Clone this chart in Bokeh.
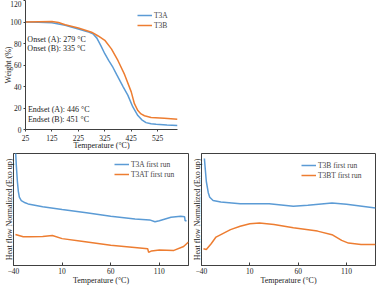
from bokeh.plotting import figure
from bokeh.layouts import column, row
from bokeh.models import Legend, LegendItem, Label, FixedTicker
from bokeh.embed import file_html
from bokeh.resources import INLINE

# ---- TGA data ----
tga_a_temp = [25, 75, 125, 175, 225, 260, 280, 295, 310, 325, 340, 356, 370, 381, 395, 412, 431, 450, 465, 481, 500, 519, 560, 600]
tga_a_wt = [100, 99.8, 99.2, 97, 93.5, 91, 89, 85, 78, 70.5, 64, 57.7, 51, 46, 39.5, 32, 21, 13, 9, 6.4, 5.3, 4.8, 4.2, 3.8]
tga_b_temp = [25, 75, 125, 150, 175, 225, 275, 300, 325, 350, 375, 400, 425, 437, 450, 462, 475, 500, 550, 600]
tga_b_wt = [100, 100.3, 100.5, 99.5, 97.5, 94.5, 90.5, 87, 83, 75, 64, 51, 35, 24, 17.6, 14.5, 12.8, 11.2, 10.5, 9.6]
tga_xticks = [25, 125, 225, 325, 425, 525]
tga_yticks = [0, 20, 40, 60, 80, 100, 120]
tga_notes = ["Onset (A): 279 °C", "Onset (B): 335 °C", "Endset (A): 446 °C", "Endset (B): 451 °C"]

# ---- DSC data (normalized, arbitrary units) ----
dsc_a_temp = [-38, -37, -36, -35, -34, -32, -28, -25, -10, 10, 35, 60, 85, 100, 105.5, 110, 122, 132, 136, 136.5, 138]
dsc_a_val = [104, 88, 75, 66, 61, 58, 56, 55, 52.5, 50, 47, 44, 41.5, 40.7, 39, 40, 43, 44, 43.5, 40, 40]
dsc_at_temp = [-38, -30, -23, -10, 0, 10, 30, 60, 90, 98, 99, 102, 110, 125, 135, 140]
dsc_at_val = [27.7, 25.6, 25.6, 26, 26.8, 24, 21.7, 18, 15.7, 15, 11.7, 13, 13.9, 13.5, 17, 21]
dsc_b_temp = [-37, -36, -35, -33, -31.5, -28, -20, 0, 30, 55, 70, 95, 110, 140]
dsc_b_val = [95.5, 85, 75, 65, 61, 58, 56.7, 55.2, 55.2, 53, 53.7, 55.8, 54.6, 51.3]
dsc_bt_temp = [-38, -35, -30, -25, -10, 0, 10, 20, 35, 55, 80, 95, 105, 112, 125, 140]
dsc_bt_val = [15, 14.3, 19.4, 25.4, 32, 35, 37.3, 37.9, 36.7, 33.7, 30.7, 27.5, 22.4, 20, 18.8, 18.8]
dsc_xticks = [-40, 10, 60, 110]

BLUE = "#5B9BD5"
ORANGE = "#ED7D31"
FONT = "Liberation Serif"
AX = "#404040"


def style_axes(p, tick_in, tick_out):
    for ax in (p.xaxis[0], p.yaxis[0]):
        ax.axis_line_color = AX
        ax.major_tick_line_color = AX
        ax.minor_tick_line_color = None
        ax.major_tick_in = tick_in
        ax.major_tick_out = tick_out
        ax.major_label_text_font = FONT
        ax.major_label_text_font_size = "7.5px"
        ax.major_label_text_color = "#222222"
        ax.major_label_standoff = 2
        ax.axis_label_text_font = FONT
        ax.axis_label_text_font_size = "8px"
        ax.axis_label_text_font_style = "normal"
        ax.axis_label_text_color = "#222222"
        ax.axis_label_standoff = -1
    p.xgrid.grid_line_color = None
    p.ygrid.grid_line_color = None


def make_legend(p, items, loc):
    lg = Legend(items=items, location=loc, border_line_color=None,
                background_fill_alpha=0, label_text_font=FONT,
                label_text_font_size="7.5px", glyph_width=15, glyph_height=10,
                label_height=10, label_standoff=2, spacing=0, padding=2, margin=0)
    p.add_layout(lg)


# ---- Top: TGA ----
p1 = figure(width=185, height=153, x_range=(25, 600), y_range=(0, 120),
            output_backend="svg", toolbar_location=None,
            min_border_left=25, min_border_right=8, min_border_top=0, min_border_bottom=24)
p1.outline_line_color = None
r1 = p1.line(tga_a_temp, tga_a_wt, line_color=BLUE, line_width=1.5)
r2 = p1.line(tga_b_temp, tga_b_wt, line_color=ORANGE, line_width=1.5)
p1.xaxis.ticker = FixedTicker(ticks=tga_xticks)
p1.yaxis.ticker = FixedTicker(ticks=tga_yticks)
p1.xaxis.axis_label = "Temperature (°C)"
p1.yaxis.axis_label = "Weight (%)"
style_axes(p1, 0, 2)
p1.xaxis.major_label_standoff = 3
p1.xaxis.axis_label_standoff = -3
p1.yaxis.axis_label_standoff = -6
make_legend(p1, [LegendItem(label="T3A", renderers=[r1]), LegendItem(label="T3B", renderers=[r2])], (112, 99))
note_x = [32, 32, 34, 34]
note_y = [83.6, 75, 18.3, 9.6]
for t, x, y in zip(tga_notes, note_x, note_y):
    p1.add_layout(Label(x=x, y=y, text=t, text_font=FONT, text_font_size="8px",
                        text_baseline="middle", text_color="#222222"))


# ---- Bottom: DSC ----
def dsc_fig(width, left, right):
    p = figure(width=width, height=134, x_range=(-40, 140), y_range=(0, 100),
               output_backend="svg", toolbar_location=None,
               min_border_left=left, min_border_right=right, min_border_top=0, min_border_bottom=22)
    p.outline_line_color = AX
    p.xaxis.ticker = FixedTicker(ticks=dsc_xticks)
    p.yaxis.ticker = FixedTicker(ticks=[])
    p.xaxis.axis_label = "Temperature (°C)"
    p.yaxis.axis_label = "Heat flow Normalized (Exo up)"
    style_axes(p, 3, 0)
    p.yaxis.axis_label_standoff = 0
    p.yaxis.major_label_standoff = 0
    return p


p2 = dsc_fig(189, 13, 1)
a1 = p2.line(dsc_a_temp, dsc_a_val, line_color=BLUE, line_width=1.5)
a2 = p2.line(dsc_at_temp, dsc_at_val, line_color=ORANGE, line_width=1.5)
make_legend(p2, [LegendItem(label="T3A first run", renderers=[a1]),
                 LegendItem(label="T3AT first run", renderers=[a2])], (101, 86))

p3 = dsc_fig(189, 10, 3)
b1 = p3.line(dsc_b_temp, dsc_b_val, line_color=BLUE, line_width=1.5)
b2 = p3.line(dsc_bt_temp, dsc_bt_val, line_color=ORANGE, line_width=1.5)
make_legend(p3, [LegendItem(label="T3B first run", renderers=[b1]),
                 LegendItem(label="T3BT first run", renderers=[b2])], (100, 85))

layout = column(p1, row(p2, p3))

open("out.html", "w").write(file_html(layout, INLINE))
